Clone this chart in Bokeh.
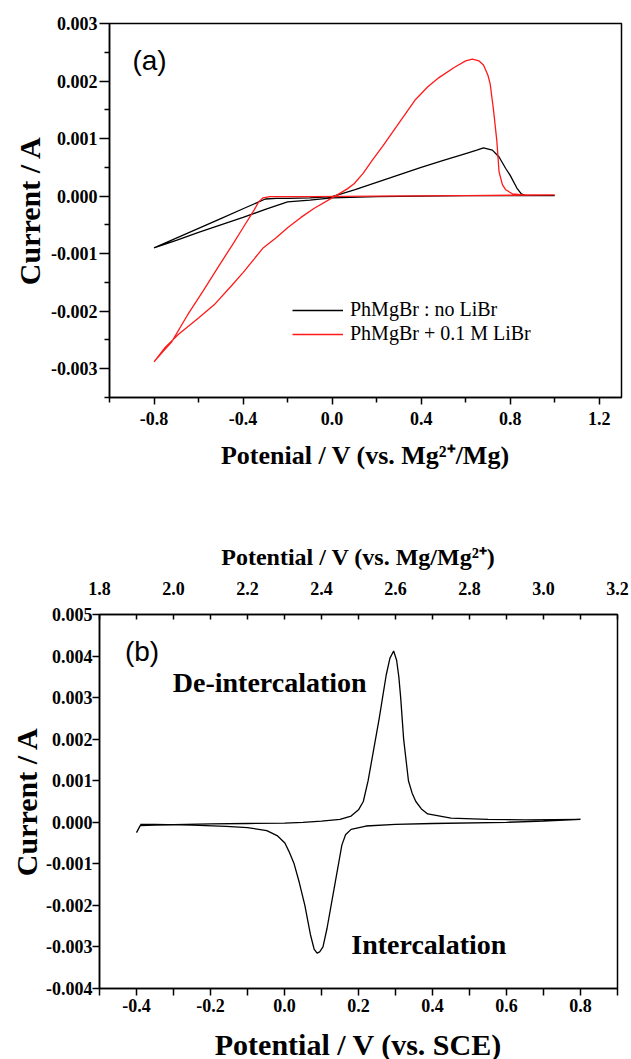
from bokeh.plotting import figure
from bokeh.models import (Range1d, LinearAxis, FixedTicker, PrintfTickFormatter,
                          Label, Legend, LegendItem)
from bokeh.embed import file_html
from bokeh.resources import INLINE

# ---------------- Panel (a) data: potential (V vs Mg2+/Mg), current (mA -> A) ----------------
black_v = [-0.80, -0.70, -0.60, -0.50, -0.40, -0.30, -0.25, -0.20, -0.10, 0.00, 0.10, 0.20,
           0.30, 0.40, 0.50, 0.60, 0.65, 0.68, 0.72, 0.75, 0.78, 0.80, 0.83, 0.85, 0.87, 0.92,
           1.00, 0.80, 0.60, 0.40, 0.20, 0.00, -0.10, -0.20, -0.30, -0.40, -0.50, -0.60, -0.70, -0.80]
black_ma = [-0.90, -0.73, -0.56, -0.39, -0.22, -0.05, -0.04, -0.04, -0.03, -0.01, 0.11, 0.24,
            0.37, 0.50, 0.62, 0.74, 0.80, 0.84, 0.80, 0.68, 0.48, 0.36, 0.14, 0.04, 0.01, 0.01,
            0.01, 0.01, 0.01, 0.00, -0.01, -0.03, -0.07, -0.10, -0.23, -0.37, -0.50, -0.63, -0.77, -0.90]

red_v = [-0.80, -0.75, -0.69, -0.60, -0.53, -0.45, -0.40, -0.31, -0.25, -0.20, -0.14, -0.08,
         0.00, 0.04, 0.07, 0.10, 0.14, 0.18, 0.23, 0.30, 0.375, 0.43, 0.48, 0.55, 0.60, 0.63,
         0.66, 0.68, 0.70, 0.71, 0.725, 0.74, 0.75, 0.765, 0.78, 0.81, 0.86, 1.00, 0.60, 0.20,
         -0.10, -0.28, -0.31, -0.33, -0.35, -0.40, -0.45, -0.50, -0.58, -0.65, -0.72, -0.76, -0.80]
red_ma = [-2.88, -2.63, -2.40, -2.12, -1.89, -1.55, -1.33, -0.90, -0.72, -0.55, -0.37, -0.21,
          -0.03, 0.06, 0.13, 0.22, 0.40, 0.62, 0.88, 1.27, 1.68, 1.90, 2.06, 2.24, 2.35, 2.38,
          2.35, 2.28, 2.10, 1.95, 1.50, 0.96, 0.42, 0.20, 0.11, 0.04, 0.02, 0.02, 0.01, 0.00,
          -0.01, -0.01, -0.03, -0.10, -0.24, -0.55, -0.86, -1.16, -1.65, -2.07, -2.53, -2.70, -2.88]

series_names = ["PhMgBr : no LiBr", "PhMgBr + 0.1 M LiBr"]

a_xticks = [-0.8, -0.4, 0.0, 0.4, 0.8, 1.2]
a_xminor = [-1.0, -0.6, -0.2, 0.2, 0.6, 1.0]
a_yticks = [-0.003, -0.002, -0.001, 0.0, 0.001, 0.002, 0.003]
a_yminor = [-0.0035, -0.0025, -0.0015, -0.0005, 0.0005, 0.0015, 0.0025]

# ---------------- Panel (b) data: potential (V vs SCE), current (mA -> A) ----------------
cv_v = [-0.40, -0.39, -0.35, -0.30, -0.20, -0.10, 0.00, 0.05, 0.10, 0.15, 0.18, 0.20, 0.213,
        0.226, 0.246, 0.256, 0.265, 0.275, 0.285, 0.295, 0.303, 0.309, 0.314, 0.322, 0.335,
        0.345, 0.355, 0.37, 0.387, 0.45, 0.55, 0.65, 0.80,
        0.70, 0.60, 0.40, 0.30, 0.22, 0.18, 0.165, 0.155, 0.146, 0.136, 0.126, 0.115, 0.104,
        0.095, 0.088, 0.080, 0.070, 0.055, 0.040, 0.026, 0.012, 0.001, -0.02, -0.048, -0.10,
        -0.157, -0.25, -0.35, -0.39]
cv_ma = [-0.25, -0.08, -0.07, -0.06, -0.04, -0.03, -0.02, 0.00, 0.03, 0.07, 0.15, 0.30, 0.50,
         1.00, 2.00, 2.50, 3.00, 3.55, 3.95, 4.12, 3.90, 3.50, 3.00, 2.00, 1.00,
         0.70, 0.50, 0.32, 0.20, 0.10, 0.07, 0.06, 0.07,
         0.03, 0.00, -0.03, -0.05, -0.09, -0.17, -0.30, -0.55, -1.00, -1.50, -2.00, -2.55, -3.00,
         -3.12, -3.15, -3.05, -2.70, -2.00, -1.45, -1.00, -0.70, -0.50, -0.32, -0.20, -0.13,
         -0.10, -0.07, -0.05, -0.05]

b_xticks = [-0.4, -0.2, 0.0, 0.2, 0.4, 0.6, 0.8]
b_xminor = [-0.5, -0.3, -0.1, 0.1, 0.3, 0.5, 0.7, 0.9]
b_top_ticks = [1.8, 2.0, 2.2, 2.4, 2.6, 2.8, 3.0, 3.2]
b_top_minor = [1.9, 2.1, 2.3, 2.5, 2.7, 2.9, 3.1]
b_yticks = [-0.004, -0.003, -0.002, -0.001, 0.0, 0.001, 0.002, 0.003, 0.004, 0.005]

to_amp = lambda arr: [v * 1e-3 for v in arr]

SERIF = "Liberation Serif"
SANS = "Liberation Sans"


def style_axis(ax, ticks, minor, fmt, tick_in=0, tick_out=7, minor_out=5, minor_in=0):
    ax.ticker = FixedTicker(ticks=ticks, minor_ticks=minor)
    ax.formatter = PrintfTickFormatter(format=fmt)
    ax.axis_line_color = "black"
    ax.axis_line_width = 1.5
    ax.major_tick_line_color = "black"
    ax.major_tick_line_width = 1.5
    ax.minor_tick_line_color = "black"
    ax.minor_tick_line_width = 1.5
    ax.major_tick_in = tick_in
    ax.major_tick_out = tick_out
    ax.minor_tick_in = minor_in
    ax.minor_tick_out = minor_out
    ax.major_label_text_font = SERIF
    ax.major_label_text_font_style = "bold"
    ax.major_label_text_font_size = "18px"
    ax.major_label_text_color = "black"
    ax.major_label_standoff = 3
    ax.axis_label_text_font = SERIF
    ax.axis_label_text_font_style = "bold"
    ax.axis_label_text_color = "black"


def base_fig(xr, yr, fw, fh, bl, br, bt, bb):
    p = figure(x_range=Range1d(*xr), y_range=Range1d(*yr),
               frame_width=fw, frame_height=fh,
               min_border_left=bl, min_border_right=br,
               min_border_top=bt, min_border_bottom=bb,
               output_backend="svg", toolbar_location=None)
    p.grid.visible = False
    p.outline_line_color = "black"
    p.outline_line_width = 1.5
    p.outline_line_alpha = 1.0
    p.background_fill_color = "white"
    p.border_fill_color = "white"
    return p


def make_legend(label, renderer, loc):
    lg = Legend(items=[LegendItem(label=label, renderers=[renderer])], location=loc)
    lg.border_line_color = None
    lg.background_fill_alpha = 0
    lg.padding = 0
    lg.margin = 0
    lg.spacing = 0
    lg.glyph_width = 51
    lg.glyph_height = 20
    lg.label_height = 20
    lg.label_standoff = 7
    lg.label_text_font = SERIF
    lg.label_text_font_size = "20px"
    lg.label_text_color = "black"
    return lg


# ---------------- Figure (a) ----------------
p1 = base_fig((-1.0, 1.3), (-0.0035, 0.003), 512, 374, 109, 10, 23, 83)
r_black = p1.line(black_v, to_amp(black_ma), line_color="black", line_width=1.3)
r_red = p1.line(red_v, to_amp(red_ma), line_color="#ff1a1a", line_width=1.3)

style_axis(p1.xaxis[0], a_xticks, a_xminor, "%.1f")
style_axis(p1.yaxis[0], a_yticks, a_yminor, "%.3f", tick_out=10, minor_out=5)
p1.xaxis[0].major_label_standoff = 7
p1.xaxis[0].axis_label = "Potenial / V (vs. Mg\u00b2\u207a/Mg)"
p1.xaxis[0].axis_label_text_font_size = "26px"
p1.xaxis[0].axis_label_standoff = 13
p1.yaxis[0].axis_label = "Current / A"
p1.yaxis[0].axis_label_text_font_size = "30px"
p1.yaxis[0].axis_label_standoff = 2
p1.yaxis[0].major_label_standoff = 2

p1.add_layout(make_legend(series_names[0], r_black, (183, 76)))
p1.add_layout(make_legend(series_names[1], r_red, (183, 52)))

p1.add_layout(Label(x=-0.82, y=0.00236, text="(a)", text_font=SANS, text_font_size="28px",
                    text_align="center", text_baseline="middle", text_color="black"))

# ---------------- Figure (b) ----------------
p2 = base_fig((-0.5, 0.9), (-0.004, 0.005), 518, 374, 99, 14, 134, 71)
p2.line(cv_v, to_amp(cv_ma), line_color="black", line_width=1.3)

style_axis(p2.xaxis[0], b_xticks, b_xminor, "%.1f", tick_out=7, minor_out=7)
style_axis(p2.yaxis[0], b_yticks, [], "%.3f", tick_out=7)
p2.xaxis[0].axis_label = "Potential / V (vs. SCE)"
p2.xaxis[0].axis_label_text_font_size = "30px"
p2.xaxis[0].axis_label_standoff = 13
p2.yaxis[0].axis_label = "Current / A"
p2.yaxis[0].axis_label_text_font_size = "30px"
p2.yaxis[0].axis_label_standoff = 0
p2.yaxis[0].major_label_standoff = 0

p2.extra_x_ranges = {"mg": Range1d(1.8, 3.2)}
top_ax = LinearAxis(x_range_name="mg")
style_axis(top_ax, b_top_ticks, b_top_minor, "%.1f", tick_in=5, tick_out=0, minor_in=5, minor_out=0)
top_ax.axis_label = "Potential / V (vs. Mg/Mg\u00b2\u207a)"
top_ax.axis_label_text_font_size = "24px"
top_ax.axis_label_standoff = 9
top_ax.major_label_standoff = 20
p2.add_layout(top_ax, "above")

p2.add_layout(Label(x=-0.385, y=0.00412, text="(b)", text_font=SANS, text_font_size="28px",
                    text_align="center", text_baseline="middle", text_color="black"))
p2.add_layout(Label(x=-0.04, y=0.00337, text="De-intercalation", text_font=SERIF,
                    text_font_style="bold", text_font_size="28px",
                    text_align="center", text_baseline="middle", text_color="black"))
p2.add_layout(Label(x=0.39, y=-0.00293, text="Intercalation", text_font=SERIF,
                    text_font_style="bold", text_font_size="28px",
                    text_align="center", text_baseline="middle", text_color="black"))

# two separate roots so Bokeh does not align the two plot frames
open("out.html", "w").write(file_html([p1, p2], INLINE))
